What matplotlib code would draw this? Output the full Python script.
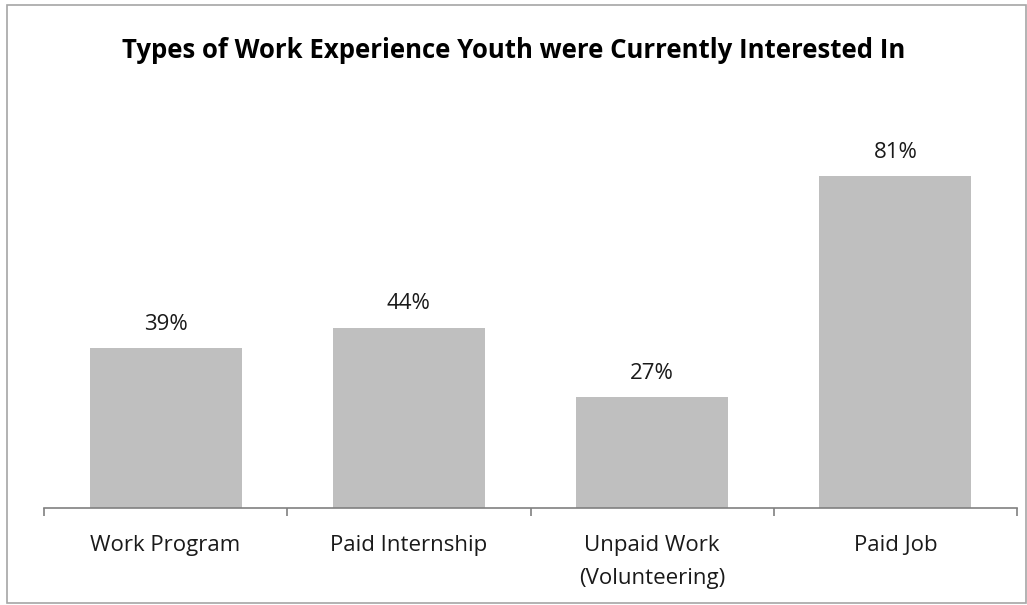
import matplotlib
matplotlib.use("Agg")
import matplotlib.pyplot as plt
from matplotlib.patches import Rectangle

categories = ["Work Program", "Paid Internship", "Unpaid Work\n(Volunteering)", "Paid Job"]
values = [39, 44, 27, 81]
value_labels = ["39%", "44%", "27%", "81%"]
title = "Types of Work Experience Youth were Currently Interested In"

plt.rcParams['font.family'] = ['Open Sans', 'DejaVu Sans']

W, H = 1027, 605
fig = plt.figure(figsize=(W / 100, H / 100), dpi=100)

# outer border
fig.patches.append(Rectangle((7 / W, 2 / H), (1026 - 7) / W, (603 - 5) / H,
                             transform=fig.transFigure, fill=False,
                             edgecolor="#A6A6A6", linewidth=1.2))

ax_left, ax_right = 44, 1017
ax_bottom, ax_top = 508, 139
ax = fig.add_axes([ax_left / W, 1 - ax_bottom / H, (ax_right - ax_left) / W, (ax_bottom - ax_top) / H])

x = list(range(len(categories)))
bars = ax.bar(x, values, width=0.625, color="#BFBFBF")
for xi, v, lab in zip(x, values, value_labels):
    ax.annotate(lab, (xi, v), xytext=(0, 17), textcoords="offset points",
                ha="center", va="center", fontsize=16, color="#1a1a1a")

ax.set_xlim(-0.5, len(categories) - 0.5)
ax.set_ylim(0, 90)
ax.set_xticks(x)
ax.set_xticklabels(categories, fontsize=16, color="#1a1a1a", linespacing=1.75)
ax.set_xticks([i - 0.5 for i in range(len(categories) + 1)], minor=True)
ax.tick_params(axis="x", which="major", length=0, pad=19.5)
ax.tick_params(axis="x", which="minor", length=6, width=1.2, color="#808080", direction="out")
ax.set_yticks([])
for s in ["top", "right", "left"]:
    ax.spines[s].set_visible(False)
ax.spines["bottom"].set_color("#808080")
ax.spines["bottom"].set_linewidth(1.2)

fig.text(514 / W, 1 - 51 / H, title, ha="center", va="center",
         fontsize=18.5, fontweight="bold", color="black")

fig.savefig("out.png", dpi=100)
